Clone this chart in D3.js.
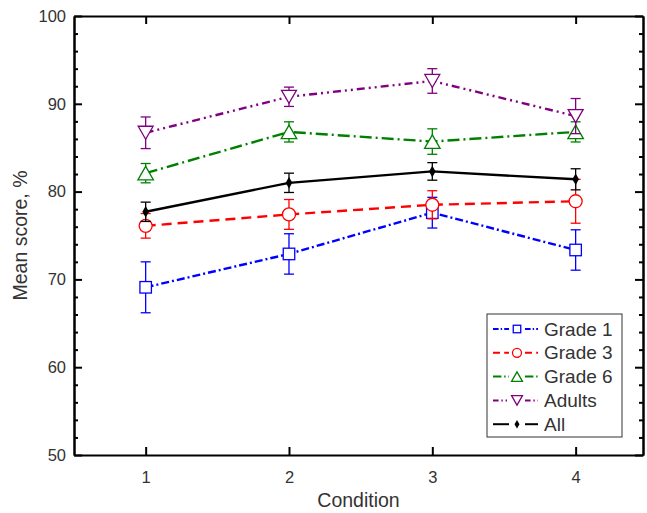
<!DOCTYPE html>
<html>
<head>
<meta charset="utf-8">
<script src="https://cdnjs.cloudflare.com/ajax/libs/d3/7.8.5/d3.min.js"></script>
<style>
  body { margin: 0; background: #fff; }
  text { font-family: "Liberation Sans", Arial, sans-serif; fill: #333; }
</style>
</head>
<body>
<svg id="chart" width="647" height="513"></svg>
<script>
// data
var conditions = [1, 2, 3, 4];
var seriesNames = ["Grade 1", "Grade 3", "Grade 6", "Adults", "All"];
var grade1 = [69.1, 72.9, 77.6, 73.35];
var grade1Err = [2.9, 2.3, 1.75, 2.3];
var grade3 = [76.1, 77.4, 78.5, 78.9];
var grade3Err = [1.4, 1.7, 1.6, 2.5];
var grade6 = [82.1, 86.8, 85.7, 86.8];
var grade6Err = [1.1, 1.15, 1.45, 1.15];
var adults = [86.7, 90.8, 92.6, 88.6];
var adultsErr = [1.8, 1.1, 1.4, 2.0];
var all = [77.7, 81.0, 82.3, 81.4];
var allErr = [1.1, 1.1, 1.0, 1.2];
var yTicks = [50, 60, 70, 80, 90, 100];

var series = [
    {name: seriesNames[0], values: grade1, err: grade1Err, color: "#0000ff", dash: "8,3,2,3", marker: "square"},
    {name: seriesNames[1], values: grade3, err: grade3Err, color: "#ff0000", dash: "10,6", marker: "circle"},
    {name: seriesNames[2], values: grade6, err: grade6Err, color: "#008000", dash: "12,4,2,4", marker: "up"},
    {name: seriesNames[3], values: adults, err: adultsErr, color: "#800080", dash: "8,4,2,4,2,4", marker: "down"},
    {name: seriesNames[4], values: all, err: allErr, color: "#000000", dash: null, marker: "diamond"}
];

// plot box (window.top is reserved, so use own names)
var plotLeft = 74, plotRight = 643, plotTop = 16, plotBottom = 455;

var svg = d3.select("#chart");

var x = d3.scaleLinear().domain([0.5, 4.47]).range([plotLeft, plotRight]);
var y = d3.scaleLinear().domain([50, 100]).range([plotBottom, plotTop]);

// minor ticks every 2
var minorTicks = d3.range(50, 100.1, 2).filter(function (d) { return d % 10 != 0; });

function drawMarker(g, type, cx, cy, s, color) {
    if (type == "square") {
        g.append("rect").attr("x", cx - s / 2).attr("y", cy - s / 2)
            .attr("width", s).attr("height", s)
            .attr("fill", "#fff").attr("stroke", color).attr("stroke-width", 1.3);
    } else if (type == "circle") {
        g.append("circle").attr("cx", cx).attr("cy", cy).attr("r", s / 2)
            .attr("fill", "#fff").attr("stroke", color).attr("stroke-width", 1.3);
    } else if (type == "up") {
        var w = s * 1.15, h = s;
        g.append("path")
            .attr("d", "M" + cx + "," + (cy - h / 2) + "L" + (cx + w / 2) + "," + (cy + h / 2) + "L" + (cx - w / 2) + "," + (cy + h / 2) + "Z")
            .attr("fill", "#fff").attr("stroke", color).attr("stroke-width", 1.3);
    } else if (type == "down") {
        var w2 = s * 1.15, h2 = s;
        g.append("path")
            .attr("d", "M" + cx + "," + (cy + h2 / 2) + "L" + (cx + w2 / 2) + "," + (cy - h2 / 2) + "L" + (cx - w2 / 2) + "," + (cy - h2 / 2) + "Z")
            .attr("fill", "#fff").attr("stroke", color).attr("stroke-width", 1.3);
    } else {
        g.append("path")
            .attr("d", d3.symbol().type(d3.symbolDiamond).size(s * s * 0.6)())
            .attr("transform", "translate(" + cx + "," + cy + ")")
            .attr("fill", color);
    }
}

var markerSize = {square: 11.5, circle: 13, up: 13.5, down: 13, diamond: 8};

var line = d3.line()
    .x(function (d, i) { return x(conditions[i]); })
    .y(function (d) { return y(d); });

series.forEach(function (s) {
    var g = svg.append("g");
    g.append("path")
        .attr("d", line(s.values))
        .attr("fill", "none")
        .attr("stroke", s.color)
        .attr("stroke-width", 2.4)
        .attr("stroke-dasharray", s.dash);

    s.values.forEach(function (v, i) {
        var cx = x(conditions[i]);
        var hi = y(v + s.err[i]), lo = y(v - s.err[i]);
        g.append("line").attr("x1", cx).attr("x2", cx).attr("y1", hi).attr("y2", lo)
            .attr("stroke", s.color).attr("stroke-width", 1.3);
        [hi, lo].forEach(function (yy) {
            g.append("line").attr("x1", cx - 5).attr("x2", cx + 5).attr("y1", yy).attr("y2", yy)
                .attr("stroke", s.color).attr("stroke-width", 1.3);
        });
        drawMarker(g, s.marker, cx, y(v), markerSize[s.marker], s.color);
    });
});

// axes with inward ticks
var axisG = svg.append("g");

axisG.append("g").attr("transform", "translate(0," + plotBottom + ")")
    .call(d3.axisBottom(x).tickValues(conditions).tickFormat(d3.format("d")).tickSizeInner(-8).tickSizeOuter(0).tickPadding(16));
axisG.append("g").attr("transform", "translate(0," + plotTop + ")")
    .call(d3.axisTop(x).tickValues(conditions).tickFormat("").tickSizeInner(-8).tickSizeOuter(0));
axisG.append("g").attr("transform", "translate(" + plotLeft + ",0)")
    .call(d3.axisLeft(y).tickValues(yTicks).tickSizeInner(-8).tickSizeOuter(0).tickPadding(8));
axisG.append("g").attr("transform", "translate(" + plotRight + ",0)")
    .call(d3.axisRight(y).tickValues(yTicks).tickFormat("").tickSizeInner(-8).tickSizeOuter(0));
axisG.append("g").attr("transform", "translate(" + plotLeft + ",0)")
    .call(d3.axisLeft(y).tickValues(minorTicks).tickFormat("").tickSizeInner(-4).tickSizeOuter(0));
axisG.append("g").attr("transform", "translate(" + plotRight + ",0)")
    .call(d3.axisRight(y).tickValues(minorTicks).tickFormat("").tickSizeInner(-4).tickSizeOuter(0));

axisG.selectAll(".domain").attr("stroke", "#000").attr("stroke-width", 2);
axisG.selectAll(".tick line").attr("stroke", "#000").attr("stroke-width", 2);
axisG.selectAll(".tick text").attr("font-size", 16.5).attr("fill", "#333")
    .style("font-family", "'Liberation Sans', Arial, sans-serif");

// axis titles
svg.append("text")
    .attr("x", (plotLeft + plotRight) / 2).attr("y", 507)
    .attr("text-anchor", "middle").attr("font-size", 19.5)
    .text("Condition");
svg.append("text")
    .attr("transform", "translate(27," + ((plotTop + plotBottom) / 2) + ") rotate(-90)")
    .attr("text-anchor", "middle").attr("font-size", 19.5)
    .text("Mean score, %");

// legend
var legend = svg.append("g");
legend.append("rect")
    .attr("x", 487).attr("y", 314).attr("width", 135).attr("height", 123)
    .attr("fill", "#fff").attr("stroke", "#333").attr("stroke-width", 1);

var legendSize = {square: 7.5, circle: 9, up: 9.5, down: 9.5, diamond: 6};
series.forEach(function (s, i) {
    var ly = 329 + i * 23.8;
    var lg = legend.append("g");
    [[493, 509], [525, 538]].forEach(function (seg) {
        lg.append("line").attr("x1", seg[0]).attr("x2", seg[1]).attr("y1", ly).attr("y2", ly)
            .attr("stroke", s.color).attr("stroke-width", 2)
            .attr("stroke-dasharray", s.dash ? s.dash.split(",").map(function (d) { return d * 0.7; }).join(",") : null);
    });
    drawMarker(lg, s.marker, 517, ly, legendSize[s.marker], s.color);
    lg.append("text").attr("x", 544).attr("y", ly + 6.5)
        .attr("font-size", 19).text(s.name);
});
</script>
</body>
</html>
